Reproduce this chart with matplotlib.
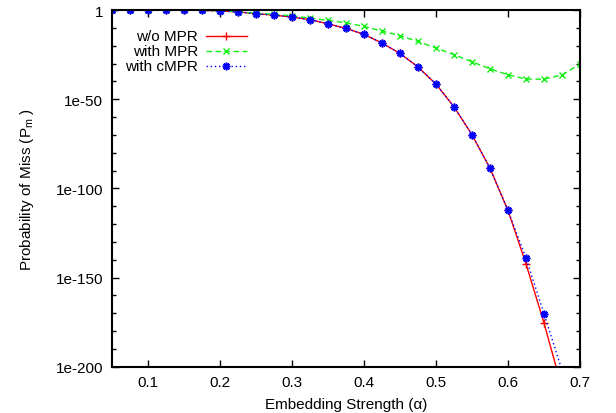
import numpy as np
import matplotlib
matplotlib.use("Agg")
import matplotlib.pyplot as plt
from matplotlib.ticker import FixedLocator, FuncFormatter
from matplotlib.lines import Line2D

plt.rcParams['font.family'] = ['Liberation Sans', 'DejaVu Sans']
plt.rcParams['mathtext.fontset'] = 'custom'
plt.rcParams['mathtext.rm'] = 'Liberation Sans'
plt.rcParams['mathtext.it'] = 'Liberation Sans'

# Embedding strength (alpha)
alpha = [0.05, 0.075, 0.1, 0.125, 0.15, 0.175, 0.2, 0.225, 0.25, 0.275, 0.3,
         0.325, 0.35, 0.375, 0.4, 0.425, 0.45, 0.475, 0.5, 0.525, 0.55, 0.575,
         0.6, 0.625, 0.65, 0.675, 0.7]

# log10 of probability of miss
log_wo_mpr = [0, 0, -0.01, -0.03, -0.08, -0.2, -0.45, -1.1, -2.0, -2.9, -3.9,
              -5.4, -7.7, -10.3, -13.6, -18.5, -24.3, -31.9, -41.5, -54.2, -69.9,
              -88.7, -112.4, -142.3, -175.5, -212, -252]
log_with_mpr = [0, 0, -0.01, -0.03, -0.08, -0.2, -0.4, -1.0, -1.8, -2.4, -3.2,
                -4.5, -5.8, -7.2, -9.2, -11.8, -14.4, -17.6, -21.3, -25.0, -29.0,
                -33.0, -36.3, -38.7, -38.8, -36.4, -30.3]
log_with_cmpr = [0, 0, -0.01, -0.03, -0.08, -0.2, -0.45, -1.1, -2.0, -2.9, -3.9,
                 -5.4, -7.7, -10.3, -13.6, -18.5, -24.3, -31.9, -41.5, -54.2, -69.9,
                 -88.7, -112.4, -139.1, -170.3, -202, -237]

series_labels = ["w/o MPR", "with MPR", "with cMPR"]
x_ticks = [0.1, 0.2, 0.3, 0.4, 0.5, 0.6, 0.7]
y_major_exp = [0, -50, -100, -150, -200]

FS = 11

fig = plt.figure(figsize=(6.16, 4.14), dpi=100)
ax = fig.add_axes([0.1813, 0.1118, 0.9416 - 0.1813, 0.9734 - 0.1118])

x = np.array(alpha)
styles = [
    dict(color='#ff0000', ls='-', marker='+', ms=6, mew=1.0),
    dict(color='#11ee11', ls=(0, (4, 2.5)), marker='x', ms=5, mew=1.0),
    dict(color='#0000ff', ls=(0, (1, 2)), marker=(8, 2, 0), ms=5.5, mew=1.2),
]
series = [log_wo_mpr, log_with_mpr, log_with_cmpr]
for s, st in zip(series, styles):
    y = 10.0 ** np.array(s, dtype=float)
    ax.plot(x, y, lw=1.0, clip_on=True, **st)

ax.set_yscale('log')
ax.set_xlim(0.05, 0.7)
ax.set_ylim(10.0 ** -200, 1)

ax.xaxis.set_major_locator(FixedLocator(x_ticks))
ax.xaxis.set_minor_locator(FixedLocator([]))
ax.set_xticklabels([f"{v:.1f}" for v in x_ticks])

ax.yaxis.set_major_locator(FixedLocator([10.0 ** e for e in y_major_exp]))
ax.yaxis.set_minor_locator(FixedLocator([10.0 ** e for e in range(-190, 0, 10)
                                         if e % 50 != 0]))


def yfmt(v, pos):
    e = int(round(np.log10(v)))
    return "1" if e == 0 else f"1e{e}"


ax.yaxis.set_major_formatter(FuncFormatter(yfmt))
ax.yaxis.set_minor_formatter(FuncFormatter(lambda v, p: ""))

ax.tick_params(which='both', direction='in', top=True, right=True,
               labelsize=FS, width=1.0)
ax.tick_params(which='major', length=5, pad=6)
ax.tick_params(which='minor', length=3)
for sp in ax.spines.values():
    sp.set_linewidth(1.5)

ax.set_xlabel("Embedding Strength (\u03b1)", fontsize=FS, labelpad=6)
ax.set_ylabel("Probability of Miss (P$_{m}$ )", fontsize=FS, labelpad=14)

# gnuplot-style legend: right-aligned text, sample on the right
rows_y = [0.928, 0.886, 0.844]
for lab, st, ry in zip(series_labels, styles, rows_y):
    ax.text(0.184, ry, lab, transform=ax.transAxes, ha='right', va='center',
            fontsize=FS)
    ax.add_line(Line2D([0.2015, 0.289], [ry, ry], transform=ax.transAxes,
                       color=st['color'], ls=st['ls'], lw=1.0))
    ax.add_line(Line2D([0.245], [ry], transform=ax.transAxes,
                       color=st['color'], ls='none', marker=st['marker'],
                       ms=st['ms'], mew=st['mew']))

fig.savefig("out.png", dpi=100)
